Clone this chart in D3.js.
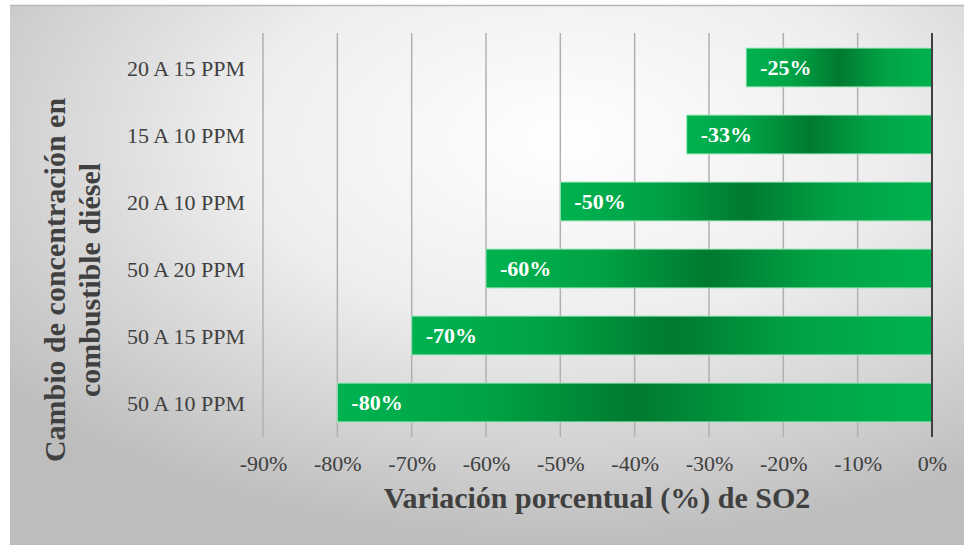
<!DOCTYPE html>
<html><head><meta charset="utf-8">
<script src="https://cdn.jsdelivr.net/npm/d3@7"></script>
<style>body{margin:0;background:#fff}svg{display:block}</style>
</head><body>
<svg id="c" width="964" height="545"></svg>
<script>
const categories = ["20 A 15 PPM","15 A 10 PPM","20 A 10 PPM","50 A 20 PPM","50 A 15 PPM","50 A 10 PPM"];
const values = [-25,-33,-50,-60,-70,-80];
const valueLabels = ["-25%","-33%","-50%","-60%","-70%","-80%"];
const tickValues = [-90,-80,-70,-60,-50,-40,-30,-20,-10,0];
const xTitle = "Variación porcentual (%) de SO2";
const yTitle = ["Cambio de concentración en","combustible diésel"];

const svg = d3.select("#c");
const defs = svg.append("defs");
const bg = defs.append("radialGradient").attr("id","bg")
  .attr("cx","0.58").attr("cy","0.25").attr("r","0.75");
bg.append("stop").attr("offset","0").attr("stop-color","#ffffff");
bg.append("stop").attr("offset","0.45").attr("stop-color","#eeeeee");
bg.append("stop").attr("offset","1").attr("stop-color","#bdbdbd");
const bar = defs.append("linearGradient").attr("id","bar").attr("x1","0").attr("x2","1").attr("y1","0").attr("y2","0");
[[0,"#00b24f"],[0.25,"#00a346"],[0.5,"#007a2e"],[0.75,"#00a346"],[1,"#00b24f"]].forEach(([o,c])=>
  bar.append("stop").attr("offset",o).attr("stop-color",c));

svg.append("rect").attr("x",10).attr("y",5).attr("width",954).attr("height",540).attr("fill","url(#bg)");
svg.append("line").attr("x1",10).attr("x2",964).attr("y1",5.5).attr("y2",5.5).attr("stroke","#b8b8b8").attr("stroke-width",1.5);

const x = d3.scaleLinear().domain([-90,0]).range([263,932]);
const y = d3.scaleBand().domain(categories).range([34,436]).paddingInner(0.42).paddingOuter(0.21);
const font = "Liberation Serif";

// grid
svg.append("g").selectAll("line").data(tickValues.filter(d=>d!==0)).join("line")
  .attr("x1",d=>x(d)).attr("x2",d=>x(d)).attr("y1",33).attr("y2",437)
  .attr("stroke","#b0b0b0").attr("stroke-width",1.5);

// bars
svg.append("g").selectAll("rect").data(values).join("rect")
  .attr("x",d=>x(d)).attr("y",(d,i)=>y(categories[i]))
  .attr("width",d=>x(0)-x(d)).attr("height",y.bandwidth())
  .attr("fill","url(#bar)").attr("stroke","#9fe6bb").attr("stroke-width",1);

// bar labels
svg.append("g").selectAll("text").data(values).join("text")
  .attr("x",d=>x(d)+14).attr("y",(d,i)=>y(categories[i])+y.bandwidth()/2)
  .attr("dy","0.36em").attr("fill","#fff").style("font-family",font)
  .style("font-weight","bold").style("font-size","22px").text((d,i)=>valueLabels[i]);

// zero axis
svg.append("line").attr("x1",x(0)).attr("x2",x(0)).attr("y1",33).attr("y2",437)
  .attr("stroke","#404040").attr("stroke-width",2);

// x axis
const xa = svg.append("g").attr("transform","translate(0,437)")
  .call(d3.axisBottom(x).tickValues(tickValues).tickSize(0).tickFormat(d=>d+"%"));
xa.select(".domain").remove();
xa.selectAll("text").attr("y",34).attr("dy",null).style("font-family",font).style("font-size","22px").attr("fill","#404040");

// y axis
const ya = svg.append("g").attr("transform","translate(245,0)")
  .call(d3.axisLeft(y).tickSize(0).tickPadding(0));
ya.select(".domain").remove();
ya.selectAll("text").attr("dy","0.4em").style("font-family",font).style("font-size","22px").attr("fill","#404040");

// titles
svg.append("text").attr("x",597).attr("y",508).attr("text-anchor","middle")
  .style("font-family",font).style("font-weight","bold").style("font-size","30px").attr("fill","#404040").text(xTitle);
const yt = svg.append("text").attr("transform","translate(0,280) rotate(-90)")
  .attr("text-anchor","middle").style("font-family",font).style("font-weight","bold")
  .style("font-size","30px").attr("fill","#404040");
yt.selectAll("tspan").data(yTitle).join("tspan").attr("x",0).attr("y",(d,i)=>i===0?65:100).text(d=>d);
</script>
</body></html>
